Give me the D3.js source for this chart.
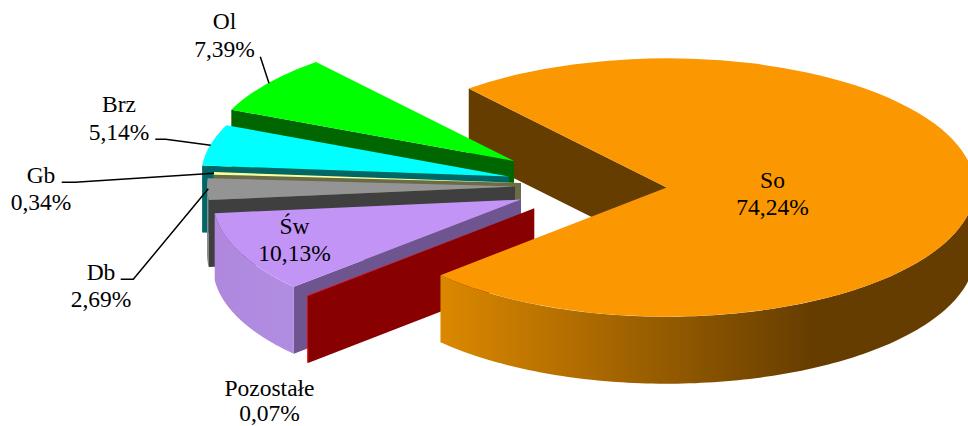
<!DOCTYPE html>
<html>
<head>
<meta charset="utf-8">
<style>html,body{margin:0;padding:0;background:#fff;overflow:hidden}svg{display:block}text{font-family:"Liberation Serif","Times New Roman",serif;font-size:23.5px;fill:#000;text-anchor:middle}</style>
<script src="https://cdn.jsdelivr.net/npm/d3@7/dist/d3.min.js"></script>
</head>
<body>
<script>
// Data, clockwise from the large slice
const categories = ["So", "Pozostałe", "Św", "Db", "Gb", "Brz", "Ol"];
const shares = [74.24, 0.07, 10.13, 2.69, 0.34, 5.14, 7.39];

// Styles
const topColors = ["#FB9700", "#FF0000", "#C294F6", "#949494", "#FFFF99", "#00FFFF", "#00FF00"];
const wallColors = ["#663D00", "#880000", "#6F5590", "#3F3F3F", "#6B6B47", "#006666", "#006600"];

// Layout: explosion centre of each slice
const centreX = [666.7, 534.3, 521, 515, 521, 509, 514];
const centreY = [187.5, 208.3, 199.6, 186.5, 183, 176.5, 161];
// Labels: centre x, baselines of name and value lines
const labelX = [772.5, 269.5, 294.5, 101, 41, 119, 224.5];
const nameY = [188, 395.7, 234, 280, 182.7, 112, 29.3];
const valueY = [215, 421, 261, 306.7, 210, 140, 56.7];
// Leader lines
const leaderPaths = [
  [[260.3, 56.7], [269, 83.3]],
  [[155.3, 139.3], [165.7, 139.3], [210.7, 145.3]],
  [[61.7, 182.3], [75, 182.3], [214, 173.3]],
  [[120.7, 279.3], [133.3, 279.3], [208.3, 188.7]]
];

const W = 968, H = 426, R = 308, RY = 129.2, DEPTH = 67;
const startDeg = 320;
const rad = d => d * Math.PI / 180;

const sx = d3.scaleLinear().domain([-1, 1]).range([-R, R]);
const sy = d3.scaleLinear().domain([-1, 1]).range([-RY, RY]);

const pie = d3.pie().sort(null).value(d => d)
  .startAngle(rad(startDeg)).endAngle(rad(startDeg + 360));
const slices = pie(shares);
const arc = d3.arc().innerRadius(0).outerRadius(R);
const line = d3.line();

const svg = d3.select("body").append("svg").attr("width", W).attr("height", H);
const defs = svg.append("defs");

function gradient(id, x1, x2, stops) {
  const g = defs.append("linearGradient").attr("id", id)
    .attr("gradientUnits", "userSpaceOnUse")
    .attr("x1", x1).attr("x2", x2).attr("y1", 0).attr("y2", 0);
  stops.forEach(s => g.append("stop").attr("offset", s[0]).attr("stop-color", s[1]));
  return "url(#" + id + ")";
}
const rimFills = {
  0: gradient("rimSo", 442, 812, [[0, "#DB8800"], [1, "#663D00"]]),
  1: "#E60000",
  2: gradient("rimSw", 215, 294, [[0, "#AF88DE"], [1, "#B18DE2"]]),
  3: gradient("rimDb", 207, 210, [[0, "#9A9A9A"], [1, "#3F3F3F"]])
};

const pt = (a, i) => [centreX[i] + sx(Math.sin(a)), centreY[i] + sy(-Math.cos(a))];

function startWall(g, i) {
  const p = pt(slices[i].startAngle, i), c = [centreX[i], centreY[i]];
  g.append("path")
    .attr("d", line([p, c, [c[0], c[1] + DEPTH], [p[0], p[1] + DEPTH]]) + "Z")
    .attr("fill", wallColors[i]);
}
function rimWall(g, i) {
  const s = slices[i];
  [[90, 270], [450, 630]].forEach(w => {
    const a0 = Math.max(s.startAngle, rad(w[0])), a1 = Math.min(s.endAngle, rad(w[1]));
    if (a1 <= a0) return;
    const top = d3.range(0, 121).map(k => pt(a0 + (a1 - a0) * k / 120, i));
    const bottom = top.slice().reverse().map(p => [p[0], p[1] + DEPTH]);
    g.append("path").attr("d", line(top.concat(bottom)) + "Z")
      .attr("fill", rimFills[i] || wallColors[i]);
  });
}
function topFace(g, i) {
  g.append("path")
    .attr("d", arc(slices[i]))
    .attr("transform", `translate(${centreX[i]},${centreY[i]}) scale(1,${RY / R})`)
    .attr("fill", topColors[i]);
}

const chart = svg.append("g");
startWall(chart, 0);
// Back to front: Ol, Brz, Gb, Db, Św, Pozostałe
[6, 5, 4, 3, 2, 1].forEach(i => {
  const g = chart.append("g").attr("class", "slice");
  startWall(g, i);
  rimWall(g, i);
  topFace(g, i);
});
rimWall(chart, 0);
topFace(chart, 0);

// Leader lines
svg.append("g").selectAll("path").data(leaderPaths).join("path")
  .attr("d", d => line(d)).attr("fill", "none")
  .attr("stroke", "#000").attr("stroke-width", 1.5);

// Labels
const fmt = v => v.toFixed(2).replace(".", ",") + "%";
const labels = svg.append("g").selectAll("g").data(categories).join("g");
labels.append("text").attr("x", (d, i) => labelX[i]).attr("y", (d, i) => nameY[i]).text(d => d);
labels.append("text").attr("x", (d, i) => labelX[i]).attr("y", (d, i) => valueY[i]).text((d, i) => fmt(shares[i]));
</script>
</body>
</html>
